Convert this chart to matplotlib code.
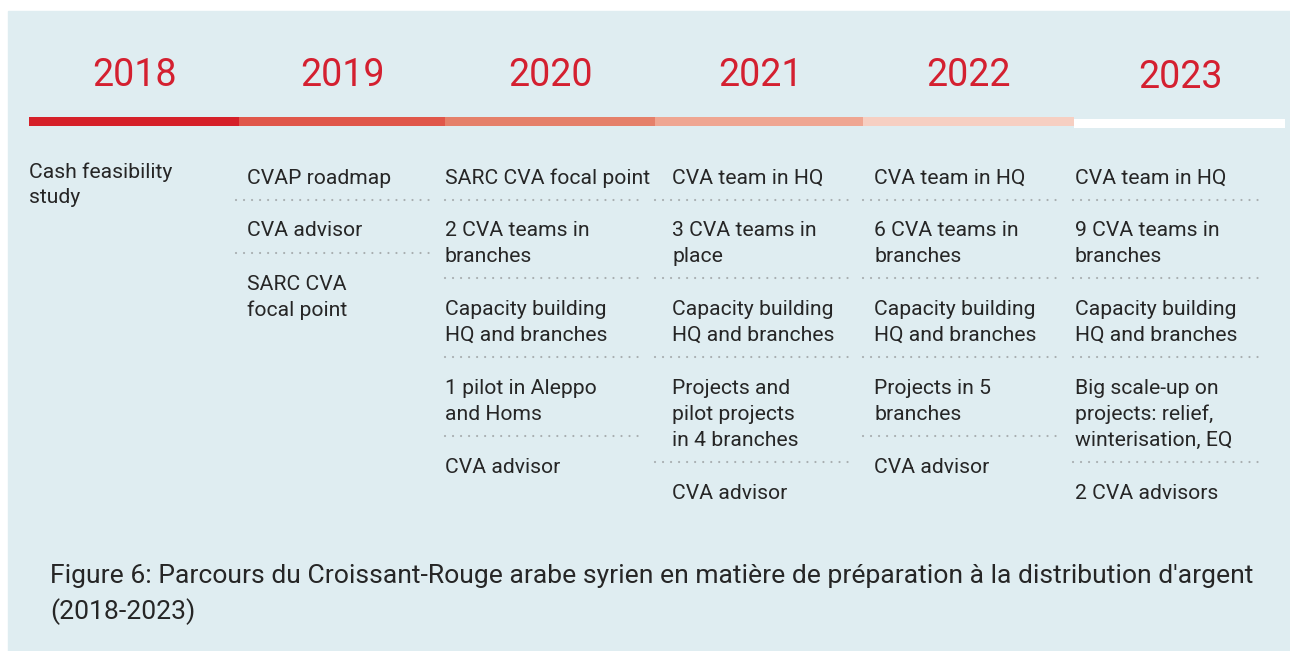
import matplotlib
matplotlib.use("Agg")
import matplotlib.pyplot as plt
from matplotlib.patches import Rectangle

plt.rcParams['font.family'] = ['Roboto', 'DejaVu Sans']

# timeline data
years = ["2018", "2019", "2020", "2021", "2022", "2023"]
bar_colors = ["#D52029", "#E0574A", "#E5806A", "#EFA692", "#F6CFC2", "#FFFFFF"]
milestones = [
    ["Cash feasibility\nstudy"],
    ["CVAP roadmap", "CVA advisor", "SARC CVA\nfocal point"],
    ["SARC CVA focal point", "2 CVA teams in\nbranches", "Capacity building\nHQ and branches",
     "1 pilot in Aleppo\nand Homs", "CVA advisor"],
    ["CVA team in HQ", "3 CVA teams in\nplace", "Capacity building\nHQ and branches",
     "Projects and\npilot projects\nin 4 branches", "CVA advisor"],
    ["CVA team in HQ", "6 CVA teams in\nbranches", "Capacity building\nHQ and branches",
     "Projects in 5\nbranches", "CVA advisor"],
    ["CVA team in HQ", "9 CVA teams in\nbranches", "Capacity building\nHQ and branches",
     "Big scale-up on\nprojects: relief,\nwinterisation, EQ", "2 CVA advisors"],
]
caption = ["Figure 6: Parcours du Croissant-Rouge arabe syrien en matière de préparation "
           "à la distribution d'argent", "(2018-2023)"]

# layout in pixels
W, H = 1290, 651
seg_edges = [29, 239, 445, 655, 863, 1074, 1285]
year_x = [134, 342, 550, 760, 968, 1180]
text_x = [29, 247, 445, 672, 874, 1075]
dot_span = [None, (236, 430), (445, 638), (655, 850), (863, 1056), (1073, 1265)]
LINE = 25.8
TO_DOTS = 22.5
AFTER_DOTS = 30.5

fig = plt.figure(figsize=(W / 100, H / 100), dpi=100)
ax = fig.add_axes([0, 0, 1, 1])
ax.set_xlim(0, W)
ax.set_ylim(H, 0)
ax.axis("off")

ax.add_patch(Rectangle((8, 11), 1282, 640, color="#DFEDF1", zorder=0))

text_col = "#262626"
for i, yr in enumerate(years):
    ax.text(year_x[i], 75 if i < 5 else 77, yr, color="#D42030", fontsize=27,
            ha="center", va="center")
    x0, x1 = seg_edges[i], seg_edges[i + 1]
    ybar = 117 if i < 5 else 119
    ax.add_patch(Rectangle((x0, ybar), x1 - x0, 9, color=bar_colors[i], lw=0, zorder=2))

    y = 172 if i == 0 else 178
    items = milestones[i]
    for k, item in enumerate(items):
        lines = item.split("\n")
        for j, ln in enumerate(lines):
            ax.text(text_x[i], y + j * LINE, ln, fontsize=15.2, color=text_col,
                    ha="left", va="center")
        if k < len(items) - 1:
            yd = y + (len(lines) - 1) * LINE + TO_DOTS - 1
            a, b = dot_span[i]
            ax.plot([a, b], [yd, yd], color="#A8AEB0", lw=1.6,
                    linestyle=(0, (0.01, 3.6)), dash_capstyle="round")
            y = yd + AFTER_DOTS + 1

for j, ln in enumerate(caption):
    ax.text(50, 576 + j * 36, ln, fontsize=19.05, color=text_col, ha="left", va="center")

fig.savefig("out.png", dpi=100)
